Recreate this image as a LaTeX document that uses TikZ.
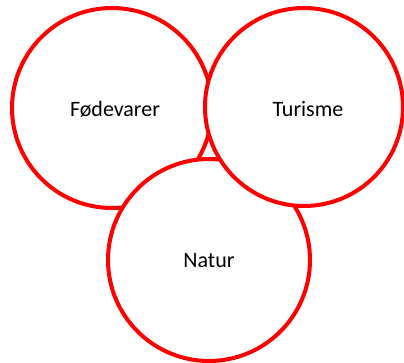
\documentclass[tikz,border=0pt]{standalone}
\usepackage{fontspec}
\setmainfont{Carlito}
\begin{document}
\begin{tikzpicture}[x=1pt,y=-1pt,
  ring/.style={circle,draw=red,fill=white,line width=4pt,inner sep=0pt},
  lbl/.style={font=\fontsize{22}{26}\selectfont,text=black}]
\useasboundingbox (0,0) rectangle (404,363);
\node[ring,minimum size=200pt] (f) at (112,108) {};
\node[ring,minimum size=202pt] (n) at (209,260) {};
\node[ring,minimum size=198pt] (t) at (304,107) {};
\node[lbl] (fl) at (115,109) {Fødevarer};
\node[lbl] (tl) at (308,109) {Turisme};
\node[lbl] (nl) at (209,261) {Natur};
\end{tikzpicture}
\end{document}
